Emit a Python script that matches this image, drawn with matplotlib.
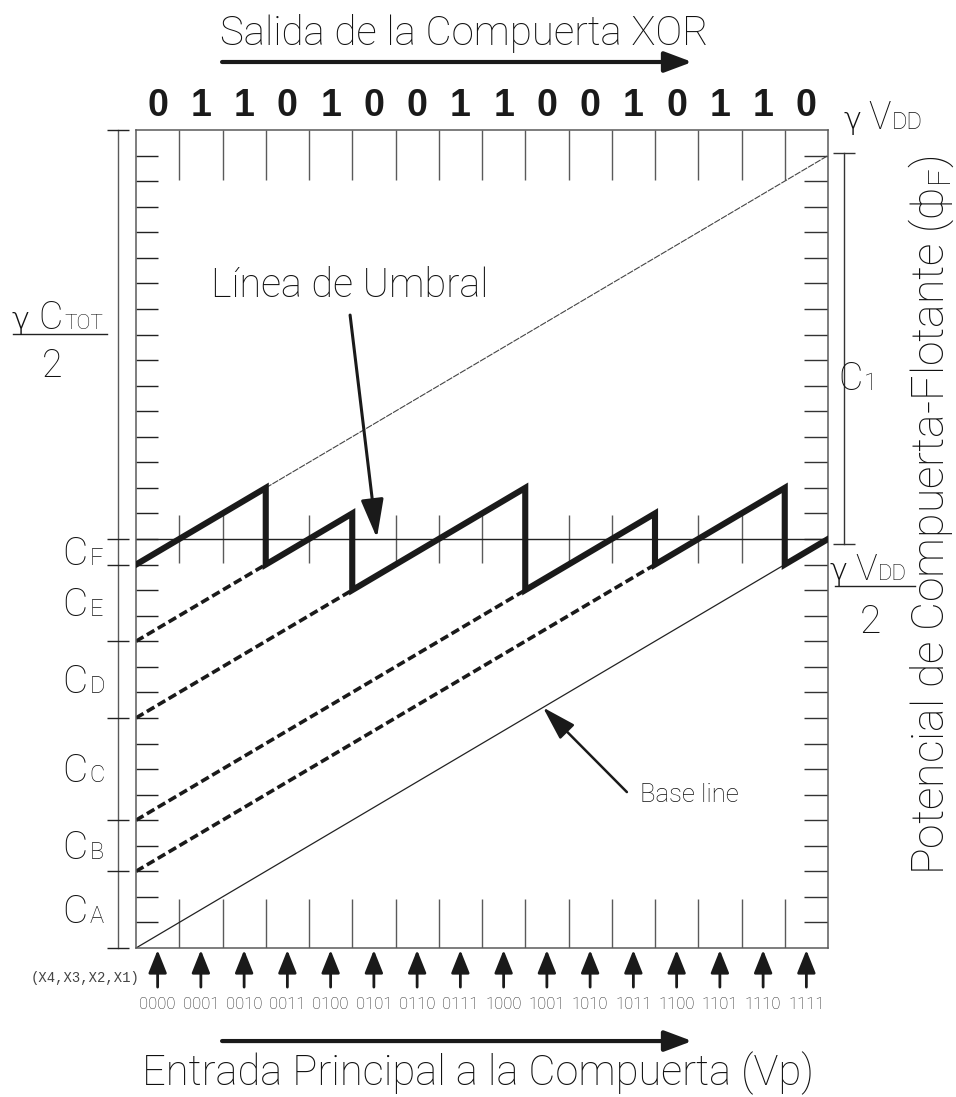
import matplotlib
matplotlib.use('Agg')
import matplotlib.pyplot as plt

# datos del diagrama (x en columnas de entrada, y en divisiones de potencial)
xor_out = [0, 1, 1, 0, 1, 0, 0, 1, 1, 0, 0, 1, 0, 1, 1, 0]
entradas = ['0000', '0001', '0010', '0011', '0100', '0101', '0110', '0111',
            '1000', '1001', '1010', '1011', '1100', '1101', '1110', '1111']
umbral_x = [0, 3, 3, 5, 5, 9, 9, 12, 12, 15, 15, 16]
umbral_y = [15, 18, 15, 17, 14, 18, 14, 17, 15, 18, 15, 16]
umbral = 16
base_x = [0, 16]
base_y = [0, 16]
tope_x = [3, 16]
tope_y = [18, 31]
rayas_inicio = [12, 9, 5, 3]
rayas_fin = [3, 5, 9, 12]
niveles = [32, 16, 15, 12, 9, 5, 3, 0]
cap_nombres = ['F', 'E', 'D', 'C', 'B', 'A']

plt.rcParams['font.family'] = ['Roboto', 'DejaVu Sans']
plt.rcParams['font.weight'] = 'light'
plt.rcParams['mathtext.fontset'] = 'custom'
plt.rcParams['mathtext.rm'] = 'Roboto:light'
plt.rcParams['mathtext.it'] = 'Roboto:light'

gris = '#5a5a5a'
negro = '#1a1a1a'
txt = '#111111'

fig = plt.figure(figsize=(9.56, 10.97), dpi=100)
ax = fig.add_axes([136 / 956, 149 / 1097, 692 / 956, 818 / 1097])
ax.set_xlim(0, 16)
ax.set_ylim(0, 32)
ax.set_xticks([])
ax.set_yticks([])
for s in ax.spines.values():
    s.set_color(gris)
    s.set_linewidth(1.1)

# marcas de la rejilla
cols = list(range(1, 16))
ax.vlines(cols, 30.05, 32, color=gris, lw=1.0)
ax.vlines(cols, 0, 1.9, color=gris, lw=1.0)
ax.vlines(cols, 15.05, 16.95, color=gris, lw=1.0)
ax.hlines(range(1, 32), 0, 0.51, color='#222222', lw=1.0)
ax.hlines(range(1, 32), 15.45, 16, color='#333333', lw=1.0)
ax.axhline(umbral, color='#222222', lw=1.0)

# lineas
ax.plot(base_x, base_y, color='#222222', lw=0.9)
ax.plot(tope_x, tope_y, color='#444444', lw=0.8, ls=(0, (6, 1)))
for s, e in zip(rayas_inicio, rayas_fin):
    ax.plot([0, e], [s, s + e], color=negro, lw=2.6, ls=(0, (2.4, 1.1)))
ax.plot(umbral_x, umbral_y, color=negro, lw=4.4, solid_joinstyle='miter', zorder=5)

# corchete izquierdo
ax.plot([-0.416, -0.416], [0, 32], color=gris, lw=1.0, clip_on=False)
ax.hlines(niveles, -0.67, -0.16, color='#222222', lw=1.0, clip_on=False)

# corchete derecho
ax.plot([16.37, 16.37], [15.8, 31.1], color='#333333', lw=1.0, clip_on=False)
ax.hlines([31.1, 15.8], 16.12, 16.62, color='#333333', lw=1.0, clip_on=False)


def dos_partes(x, y, grande, chico, sg, sc):
    ax.text(x, y, grande, ha='right', va='baseline', fontsize=sg, color=txt)
    ax.text(x + 0.03, y, chico, ha='left', va='baseline', fontsize=sc, color=txt)


def gamma(x, y, sg):
    ax.text(x, y, 'γ', ha='right', va='baseline', fontsize=sg, color=txt,
            family='DejaVu Sans', fontweight='ultralight')


# etiquetas de capacidades
for i, n in enumerate(cap_nombres):
    medio = (niveles[i + 1] + niveles[i + 2]) / 2
    dos_partes(-1.11, medio - 0.52, 'C', n, 28, 17)

gamma(-2.45, 24.21, 22)
dos_partes(-1.69, 24.21, 'C', 'TOT', 27, 15)
ax.plot([-2.84, -0.67], [24.02, 24.02], color='#222222', lw=1.0, clip_on=False)
ax.text(-1.93, 22.34, '2', ha='center', va='baseline', fontsize=27, color=txt)

gamma(16.78, 32.04, 22)
dos_partes(17.44, 32.04, 'V', 'DD', 27, 17)
dos_partes(16.79, 21.83, 'C', '1', 27, 17)
gamma(16.46, 14.4, 22)
dos_partes(17.13, 14.4, 'V', 'DD', 26, 16)
ax.plot([16.16, 18.01], [14.16, 14.16], color='#222222', lw=1.0, clip_on=False)
ax.text(16.97, 12.32, '2', ha='center', va='baseline', fontsize=28, color=txt)

# bits de salida XOR
for i, b in enumerate(xor_out):
    ax.text(i + 0.5, 32.55, str(b), ha='center', va='baseline', fontsize=27,
            fontweight='bold', family='Liberation Sans', color=negro)

# flechas y codigos de entrada
for i, c in enumerate(entradas):
    ax.annotate('', xy=(i + 0.5, -0.08), xytext=(i + 0.5, -1.53),
                arrowprops=dict(arrowstyle='-|>,head_length=1.0,head_width=0.4',
                                mutation_scale=14, lw=2.0, color=negro,
                                shrinkA=0, shrinkB=0),
                annotation_clip=False)
    ax.text(i + 0.5, -2.39, c, ha='center', va='baseline', fontsize=12, color='#222222')
ax.text(0.09, -1.17, '(X4,X3,X2,X1)', ha='right', va='center', fontsize=10,
        family='Liberation Mono', fontweight='normal', color='#444444')

# titulos
ax.text(7.58, 35.33, 'Salida de la Compuerta XOR', ha='center', va='baseline',
        fontsize=29, color=txt)
ax.annotate('', xy=(12.86, 34.66), xytext=(1.99, 34.66),
            arrowprops=dict(arrowstyle='-|>,head_length=1.2,head_width=0.45',
                            mutation_scale=14, lw=3.0, color=negro, shrinkA=0, shrinkB=0),
            annotation_clip=False)
ax.text(7.9, -5.36, 'Entrada Principal a la Compuerta (Vp)', ha='center', va='baseline',
        fontsize=30, color=txt)
ax.annotate('', xy=(12.86, -3.64), xytext=(1.99, -3.64),
            arrowprops=dict(arrowstyle='-|>,head_length=1.2,head_width=0.45',
                            mutation_scale=14, lw=3.0, color=negro, shrinkA=0, shrinkB=0),
            annotation_clip=False)
ax.text(18.95, 16.94, r'Potencial de Compuerta-Flotante ($\phi_{\mathrm{F}}$)',
        rotation=90, ha='right', va='center', fontsize=32, color=txt)

# anotaciones internas
ax.text(4.94, 25.47, 'Línea de Umbral', ha='center', va='baseline', fontsize=28.5,
        color=txt)
ax.annotate('', xy=(5.57, 16.04), xytext=(4.95, 24.76),
            arrowprops=dict(arrowstyle='-|>,head_length=1.7,head_width=0.5',
                            mutation_scale=14, lw=2.2, color=negro, shrinkA=0, shrinkB=0))
ax.text(11.65, 5.71, 'Base line', ha='left', va='baseline', fontsize=18.5, color=txt)
ax.annotate('', xy=(9.41, 9.41), xytext=(11.35, 6.1),
            arrowprops=dict(arrowstyle='-|>,head_length=1.5,head_width=0.45',
                            mutation_scale=14, lw=1.8, color=negro, shrinkA=0, shrinkB=0))

fig.savefig('out.png', dpi=100, facecolor='white')
